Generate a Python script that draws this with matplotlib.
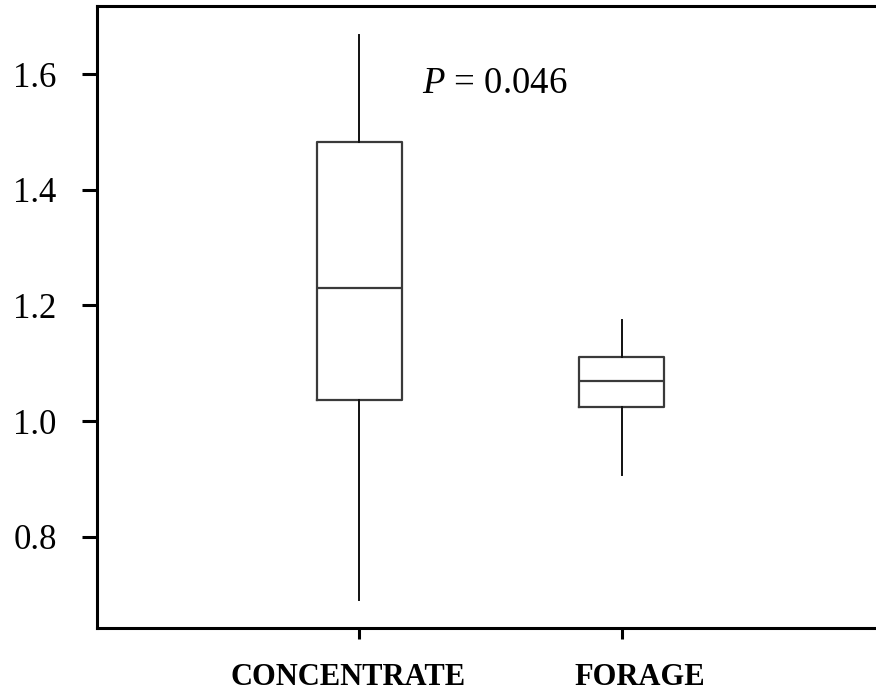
import matplotlib
matplotlib.use("Agg")
import matplotlib.pyplot as plt
from matplotlib.transforms import ScaledTranslation

# five-number summaries per diet group
groups = ["CONCENTRATE", "FORAGE"]
whislo = [0.690, 0.906]
q1 = [1.037, 1.025]
med = [1.230, 1.070]
q3 = [1.482, 1.110]
whishi = [1.668, 1.175]
p_value = 0.046

yticks = [0.8, 1.0, 1.2, 1.4, 1.6]

plt.rcParams["font.family"] = ["Liberation Serif", "DejaVu Serif"]
plt.rcParams["mathtext.fontset"] = "custom"
plt.rcParams["mathtext.it"] = "Liberation Serif:italic"
plt.rcParams["mathtext.rm"] = "Liberation Serif"

fig = plt.figure(figsize=(8.76, 6.92), dpi=100)
ax = fig.add_axes([0.1107, 0.0925, 0.8986, 0.8988])

stats = [dict(label=g, whislo=lo, q1=a, med=m, q3=b, whishi=hi, fliers=[])
         for g, lo, a, m, b, hi in zip(groups, whislo, q1, med, q3, whishi)]
pos = list(range(1, len(groups) + 1))
ax.bxp(stats, positions=pos, widths=0.325, showcaps=False,
       boxprops=dict(color="#3a3a3a", lw=1.6),
       medianprops=dict(color="#3a3a3a", lw=1.6),
       whiskerprops=dict(color="#111111", lw=1.4))

ax.set_xlim(0, 3)
ax.set_ylim(0.642, 1.718)
ax.set_yticks(yticks)
ax.set_yticklabels([f"{v:.1f}" for v in yticks])
ax.set_xticks(pos)
ax.set_xticklabels(groups, fontweight="bold", fontsize=22)

for s in ax.spines.values():
    s.set_linewidth(2.2)
ax.spines["right"].set_visible(False)

ax.tick_params(axis="y", length=11, width=2.2, pad=18, labelsize=25)
ax.tick_params(axis="x", length=8, width=2.2, pad=17)

# nudge the category labels the way they sit under the ticks
for lab, dx in zip(ax.get_xticklabels(), [-11, 18]):
    lab.set_transform(lab.get_transform() + ScaledTranslation(dx / 100, 0, fig.dpi_scale_trans))

ax.text(1.24, 1.568, f"$P$ = {p_value:.3f}", fontsize=26.5, ha="left", va="baseline")

fig.savefig("out.png", dpi=100)
